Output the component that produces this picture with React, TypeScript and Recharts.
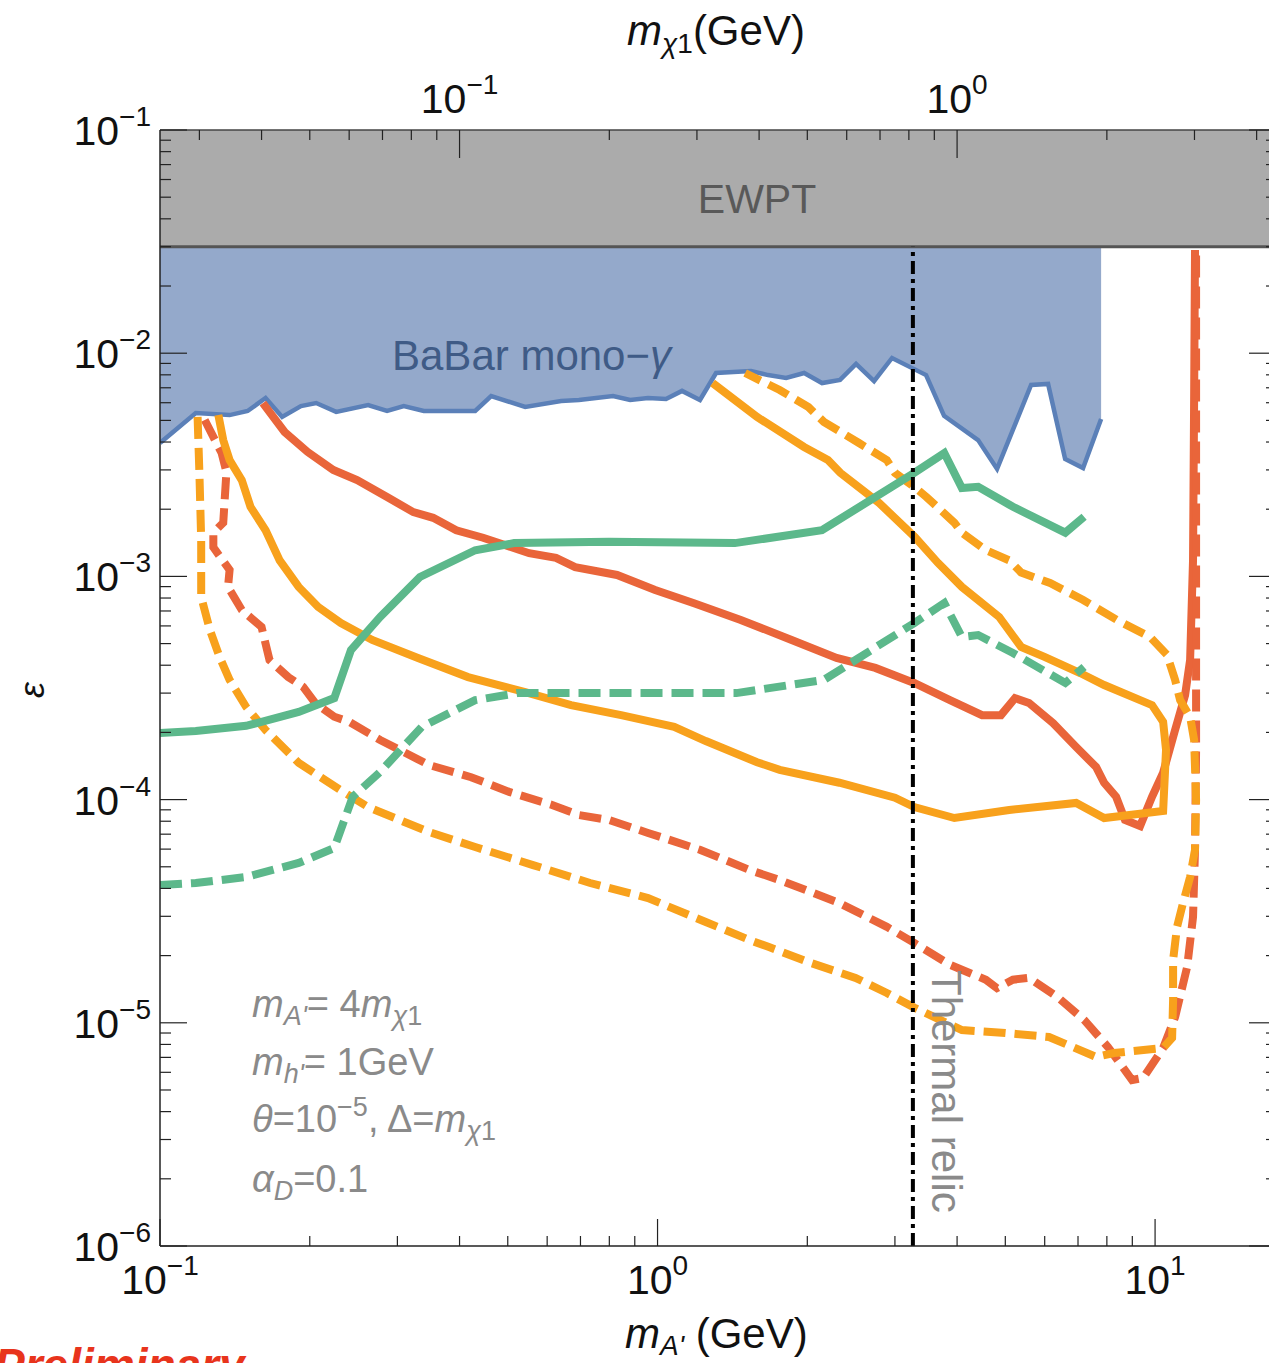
import React from "react";
import { Area, ComposedChart, Line, ReferenceArea, ReferenceLine, XAxis, YAxis } from "recharts";

const FONT = '"Liberation Sans", Arial, Helvetica, sans-serif';

// axis ranges (m_A' in GeV on x, epsilon on y)
const X_MIN = 0.1;
const X_MAX = 17.5;
const Y_MIN = 1e-6;
const Y_MAX = 1e-1;
const EWPT_LOWER = 0.03;
const RELIC_MASS = 3.26;
const MA_PER_MCHI = 4; // m_A' = 4 m_chi1

// ticks
const bottomMajorTicks = [0.1, 1, 10];
const bottomMinorTicks = [0.2, 0.3, 0.4, 0.5, 0.6, 0.7, 0.8, 0.9, 2, 3, 4, 5, 6, 7, 8, 9];
const topMajorTicks = [0.1, 1]; // m_chi1
const topMinorTicks = [0.03, 0.04, 0.05, 0.06, 0.07, 0.08, 0.09, 0.2, 0.3, 0.4, 0.5, 0.6, 0.7, 0.8, 0.9, 2, 3, 4];
const yMajorTicks = [1e-6, 1e-5, 1e-4, 1e-3, 1e-2, 1e-1];
const yMinorFactors = [2, 3, 4, 5, 6, 7, 8, 9];

// BaBar mono-photon bound
const babarMass = [0.1, 0.118, 0.138, 0.15, 0.163, 0.176, 0.192, 0.206, 0.226, 0.262, 0.286, 0.309, 0.339, 0.381, 0.43, 0.463, 0.542, 0.64, 0.695, 0.814, 0.881, 0.957, 1.04, 1.12, 1.217, 1.311, 1.541, 1.668, 1.813, 1.971, 2.141, 2.327, 2.506, 2.724, 2.96, 3.465, 3.766, 4.408, 4.813, 5.634, 6.095, 6.595, 7.166, 7.79];
const babarEps = [0.00396, 0.0054, 0.00528, 0.00551, 0.0063, 0.00518, 0.00579, 0.00598, 0.00546, 0.00586, 0.00551, 0.00579, 0.00551, 0.00551, 0.00551, 0.00643, 0.00574, 0.00611, 0.00617, 0.00643, 0.00617, 0.0063, 0.00624, 0.00678, 0.00617, 0.00815, 0.00832, 0.00798, 0.00774, 0.00815, 0.00735, 0.00759, 0.00895, 0.0075, 0.00952, 0.00798, 0.00524, 0.00408, 0.00303, 0.00721, 0.00728, 0.00336, 0.00306, 0.00507];

// red solid
const redSolidMass = [0.161, 0.178, 0.198, 0.223, 0.249, 0.286, 0.323, 0.354, 0.394, 0.446, 0.552, 0.625, 0.683, 0.829, 0.989, 1.18, 1.47, 1.86, 2.29, 2.74, 3.28, 3.87, 4.49, 4.9, 5.23, 5.58, 6.24, 6.94, 7.61, 7.9, 8.35, 8.7, 9.33, 9.86, 10.38, 10.97, 11.49, 11.76, 11.92, 11.98, 12.03];
const redSolidEps = [5.98e-3, 4.44e-3, 3.61e-3, 3.0e-3, 2.7e-3, 2.27e-3, 1.94e-3, 1.83e-3, 1.61e-3, 1.49e-3, 1.27e-3, 1.21e-3, 1.1e-3, 1.015e-3, 8.69e-4, 7.6e-4, 6.38e-4, 5.19e-4, 4.31e-4, 3.89e-4, 3.33e-4, 2.79e-4, 2.39e-4, 2.39e-4, 2.85e-4, 2.71e-4, 2.2e-4, 1.72e-4, 1.4e-4, 1.19e-4, 1.03e-4, 8.1e-5, 7.61e-5, 1.03e-4, 1.32e-4, 2.05e-4, 2.94e-4, 4.22e-4, 1.18e-3, 6.17e-3, 2.9e-2];

// red dashed
const redDashedMass = [0.123, 0.133, 0.136, 0.134, 0.128, 0.128, 0.138, 0.137, 0.146, 0.16, 0.166, 0.181, 0.194, 0.205, 0.224, 0.24, 0.277, 0.347, 0.422, 0.505, 0.614, 0.695, 0.799, 0.957, 1.22, 1.53, 1.76, 2.32, 2.89, 3.28, 3.87, 4.57, 4.81, 5.18, 5.58, 6.35, 7.2, 8.04, 8.99, 9.46, 10.38, 10.97, 11.6, 11.92, 12.03, 12.09, 12.09, 12.09, 12.09];
const redDashedEps = [5.02e-3, 3.57e-3, 2.94e-3, 1.74e-3, 1.57e-3, 1.35e-3, 1.07e-3, 8.97e-4, 7.07e-4, 5.93e-4, 4.22e-4, 3.54e-4, 3.2e-4, 2.71e-4, 2.35e-4, 2.23e-4, 1.85e-4, 1.43e-4, 1.26e-4, 1.08e-4, 9.46e-5, 8.53e-5, 8.1e-5, 7.09e-5, 5.95e-5, 4.84e-5, 4.36e-5, 3.44e-5, 2.69e-5, 2.28e-5, 1.82e-5, 1.56e-5, 1.43e-5, 1.56e-5, 1.59e-5, 1.31e-5, 1.03e-5, 7.79e-6, 5.54e-6, 5.66e-6, 7.71e-6, 1.06e-5, 1.78e-5, 2.98e-5, 5.95e-5, 1.67e-4, 7.84e-4, 6.17e-3, 2.9e-2];

// orange solid
const orangeSolidMass = [0.131, 0.134, 0.138, 0.146, 0.152, 0.163, 0.174, 0.19, 0.208, 0.231, 0.267, 0.33, 0.416, 0.542, 0.67, 0.845, 1.08, 1.25, 1.585, 1.76, 2.32, 3.0, 3.28, 3.95, 5.09, 6.94, 7.9, 10.38, 10.52, 10.38, 9.86, 7.9, 7.07, 6.01, 5.38, 4.86, 4.09, 3.66, 3.29, 2.79, 2.33, 2.2, 1.97, 1.585, 1.29];
const orangeSolidEps = [5.29e-3, 4.08e-3, 3.32e-3, 2.7e-3, 2.05e-3, 1.61e-3, 1.18e-3, 8.97e-4, 7.29e-4, 6.18e-4, 5.19e-4, 4.31e-4, 3.54e-4, 3.03e-4, 2.65e-4, 2.39e-4, 2.12e-4, 1.83e-4, 1.47e-4, 1.36e-4, 1.19e-4, 1.02e-4, 9.26e-5, 8.27e-5, 8.98e-5, 9.66e-5, 8.27e-5, 8.89e-5, 1.67e-4, 2.23e-4, 2.65e-4, 3.26e-4, 3.69e-4, 4.35e-4, 4.83e-4, 6.58e-4, 8.97e-4, 1.15e-3, 1.5e-3, 2.13e-3, 2.91e-3, 3.32e-3, 3.8e-3, 5.18e-3, 7.35e-3];

// orange dashed
const orangeDashedMass = [0.119, 0.12, 0.121, 0.121, 0.126, 0.132, 0.138, 0.149, 0.163, 0.19, 0.231, 0.262, 0.347, 0.43, 0.562, 0.732, 0.957, 1.25, 1.53, 1.67, 2.01, 2.5, 2.89, 3.28, 3.6, 4.09, 5.0, 6.12, 7.61, 8.27, 10.38, 10.82, 10.87, 10.87, 11.07, 11.38, 11.76, 12.03, 12.09, 11.98, 11.76, 11.23, 10.97, 10.57, 9.77, 8.38, 7.17, 6.15, 5.38, 5.09, 4.57, 4.09, 3.95, 3.47, 3.28, 3.0, 2.89, 2.54, 2.16, 2.01, 1.76, 1.5];
const orangeDashedEps = [5.18e-3, 2.91e-3, 1.46e-3, 8.09e-4, 5.75e-4, 4.31e-4, 3.44e-4, 2.6e-4, 2.05e-4, 1.46e-4, 1.1e-4, 9.26e-5, 7.16e-5, 6.13e-5, 5.09e-5, 4.23e-5, 3.62e-5, 2.83e-5, 2.35e-5, 2.19e-5, 1.87e-5, 1.59e-5, 1.36e-5, 1.17e-5, 1.06e-5, 9.28e-6, 9.0e-6, 8.64e-6, 7.03e-6, 7.32e-6, 7.71e-6, 8.55e-6, 1.27e-5, 1.91e-5, 2.69e-5, 3.44e-5, 4.5e-5, 5.95e-5, 9.96e-5, 1.85e-4, 2.35e-4, 2.79e-4, 3.44e-4, 4.45e-4, 5.35e-4, 6.38e-4, 7.84e-4, 9.34e-4, 1.04e-3, 1.18e-3, 1.31e-3, 1.57e-3, 1.74e-3, 2.27e-3, 2.52e-3, 2.91e-3, 3.32e-3, 3.96e-3, 4.92e-3, 5.74e-3, 6.84e-3, 8.15e-3];

// green solid
const greenSolidMass = [0.1, 0.118, 0.149, 0.19, 0.224, 0.242, 0.277, 0.333, 0.43, 0.515, 0.799, 1.43, 2.14, 3.28, 3.77, 4.09, 4.41, 5.18, 6.6, 7.2];
const greenSolidEps = [1.99e-4, 2.03e-4, 2.14e-4, 2.47e-4, 2.85e-4, 4.68e-4, 6.58e-4, 9.94e-4, 1.31e-3, 1.41e-3, 1.43e-3, 1.41e-3, 1.61e-3, 2.91e-3, 3.57e-3, 2.49e-3, 2.52e-3, 2.05e-3, 1.57e-3, 1.85e-3];

// green dashed
const greenDashedMass = [0.1, 0.118, 0.149, 0.19, 0.224, 0.244, 0.277, 0.336, 0.43, 0.522, 0.799, 1.44, 2.16, 3.28, 3.77, 4.09, 4.41, 5.18, 6.6, 7.2];
const greenDashedEps = [4.14e-5, 4.23e-5, 4.5e-5, 5.2e-5, 6.07e-5, 1.03e-4, 1.33e-4, 2.12e-4, 2.79e-4, 3.0e-4, 3.0e-4, 3.0e-4, 3.44e-4, 6.18e-4, 7.6e-4, 5.35e-4, 5.46e-4, 4.54e-4, 3.33e-4, 3.93e-4];

const rows = (xs: number[], ys: number[]) => xs.map((x, i) => ({ x, y: ys[i] }));

const babarRows = rows(babarMass, babarEps);

const RED = "#e9653a";
const ORANGE = "#f8a11c";
const GREEN = "#5cb88b";
const DASH = "22 9";
const CURVE_WIDTH = 8;

const curves = [
  { key: "redSolid", data: rows(redSolidMass, redSolidEps), color: RED, dash: undefined },
  { key: "redDashed", data: rows(redDashedMass, redDashedEps), color: RED, dash: DASH },
  { key: "orangeSolid", data: rows(orangeSolidMass, orangeSolidEps), color: ORANGE, dash: undefined },
  { key: "orangeDashed", data: rows(orangeDashedMass, orangeDashedEps), color: ORANGE, dash: DASH },
  { key: "greenSolid", data: rows(greenSolidMass, greenSolidEps), color: GREEN, dash: undefined },
  { key: "greenDashed", data: rows(greenDashedMass, greenDashedEps), color: GREEN, dash: DASH },
];

const yTicks = [
  ...yMajorTicks,
  ...yMajorTicks.slice(0, -1).flatMap((d) => yMinorFactors.map((f) => f * d)),
];
const bottomTicks = [...bottomMajorTicks, ...bottomMinorTicks];
const topTicks = [...topMajorTicks, ...topMinorTicks].map((m) => m * MA_PER_MCHI);

const isDecade = (v: number) => Math.abs(Math.log10(v) - Math.round(Math.log10(v))) < 1e-6;
const expText = (v: number) => {
  const e = Math.round(Math.log10(v));
  return e < 0 ? `\u2212${-e}` : `${e}`;
};

const PowerLabel = ({ x, y, value, anchor }: { x: number; y: number; value: number; anchor: "start" | "middle" | "end" }) => (
  <text x={x} y={y} textAnchor={anchor} fontFamily={FONT} fontSize={41} fill="#111">
    10<tspan dy={-19} fontSize={28}>{expText(value)}</tspan>
  </text>
);

type TickProps = { x?: number; y?: number; payload?: { value: number } };
const TICK = "#222";

const BottomTick = ({ x = 0, y = 0, payload }: TickProps) => {
  const v = payload?.value ?? 1;
  const major = isDecade(v);
  return (
    <g>
      <line x1={x} x2={x} y1={y} y2={y - (major ? 27 : 10)} stroke={TICK} strokeWidth={1.2} />
      {major && <PowerLabel x={x} y={y + 48} value={v} anchor="middle" />}
    </g>
  );
};

const TopTick = ({ x = 0, y = 0, payload }: TickProps) => {
  const mchi = (payload?.value ?? 1) / MA_PER_MCHI;
  const major = isDecade(mchi);
  return (
    <g>
      <line x1={x} x2={x} y1={y} y2={y + (major ? 28 : 10)} stroke={TICK} strokeWidth={1.2} />
      {major && <PowerLabel x={x} y={y - 17} value={mchi} anchor="middle" />}
    </g>
  );
};

const LeftTick = ({ x = 0, y = 0, payload }: TickProps) => {
  const v = payload?.value ?? 1;
  const major = isDecade(v);
  return (
    <g>
      <line x1={x} x2={x + (major ? 27 : 11)} y1={y} y2={y} stroke={TICK} strokeWidth={1.2} />
      {major && <PowerLabel x={x - 9} y={y + 15} value={v} anchor="end" />}
    </g>
  );
};

const RightTick = ({ x = 0, y = 0, payload }: TickProps) => {
  const v = payload?.value ?? 1;
  const major = isDecade(v);
  return <line x1={x} x2={x - (major ? 27 : 10)} y1={y} y2={y} stroke={TICK} strokeWidth={1.2} />;
};

const GRAY_TEXT = "#8a8a8a";

export default function App() {
  return (
    <div style={{ position: "absolute", left: 0, top: 0, width: 1269, height: 1363, overflow: "hidden", background: "#fff" }}>
      <ComposedChart width={1277} height={1363} margin={{ top: 129, right: 0, bottom: 116, left: 159 }} data={babarRows}>
        <Area
          xAxisId="b"
          yAxisId="l"
          type="linear"
          dataKey={(d: { y: number }) => [d.y, EWPT_LOWER]}
          stroke="none"
          fill="#94a9cb"
          fillOpacity={1}
          isAnimationActive={false}
        />
        <Line xAxisId="b" yAxisId="l" type="linear" dataKey="y" stroke="#5b80b8" strokeWidth={4.5} dot={false} isAnimationActive={false} />
        <ReferenceArea xAxisId="b" yAxisId="l" y1={EWPT_LOWER} y2={Y_MAX} fill="#ababab" fillOpacity={1} stroke="none" />
        <ReferenceLine xAxisId="b" yAxisId="l" y={EWPT_LOWER} stroke="#555" strokeWidth={3} />
        {curves.map((c) => (
          <Line
            key={c.key}
            data={c.data}
            xAxisId="b"
            yAxisId="l"
            type="linear"
            dataKey="y"
            stroke={c.color}
            strokeWidth={CURVE_WIDTH}
            strokeDasharray={c.dash}
            dot={false}
            isAnimationActive={false}
          />
        ))}
        <ReferenceLine
          xAxisId="b"
          yAxisId="l"
          segment={[{ x: RELIC_MASS, y: Y_MIN }, { x: RELIC_MASS, y: EWPT_LOWER }]}
          stroke="#000"
          strokeWidth={4}
          strokeDasharray="13 5 4 5"
        />
        <XAxis
          xAxisId="b"
          type="number"
          dataKey="x"
          scale="log"
          domain={[X_MIN, X_MAX]}
          allowDataOverflow
          ticks={bottomTicks}
          interval={0}
          tick={(p: TickProps) => <BottomTick {...p} />}
          tickLine={false}
          tickSize={0}
          tickMargin={0}
          height={1}
          axisLine={{ stroke: "#222", strokeWidth: 1.5 }}
        />
        <XAxis
          xAxisId="t"
          orientation="top"
          type="number"
          dataKey="x"
          scale="log"
          domain={[X_MIN, X_MAX]}
          allowDataOverflow
          ticks={topTicks}
          interval={0}
          tick={(p: TickProps) => <TopTick {...p} />}
          tickLine={false}
          tickSize={0}
          tickMargin={0}
          height={1}
          axisLine={{ stroke: "#444", strokeWidth: 1.5 }}
        />
        <YAxis
          yAxisId="l"
          type="number"
          scale="log"
          domain={[Y_MIN, Y_MAX]}
          allowDataOverflow
          ticks={yTicks}
          interval={0}
          tick={(p: TickProps) => <LeftTick {...p} />}
          tickLine={false}
          tickSize={0}
          tickMargin={0}
          width={1}
          axisLine={{ stroke: "#222", strokeWidth: 1.5 }}
        />
        <YAxis
          yAxisId="r"
          orientation="right"
          type="number"
          scale="log"
          domain={[Y_MIN, Y_MAX]}
          allowDataOverflow
          ticks={yTicks}
          interval={0}
          tick={(p: TickProps) => <RightTick {...p} />}
          tickLine={false}
          tickSize={0}
          tickMargin={0}
          width={1}
          axisLine={{ stroke: "#222", strokeWidth: 1.5 }}
        />
      </ComposedChart>

      <svg style={{ position: "absolute", left: 0, top: 0, pointerEvents: "none" }} width={1269} height={1363} fontFamily={FONT}>
        {/* axis titles */}
        <text x={627} y={45} fontSize={42} fill="#111">
          <tspan fontStyle="italic">m</tspan>
          <tspan fontSize={28} dy={8} fontStyle="italic">χ</tspan>
          <tspan fontSize={28}>1</tspan>
          <tspan dy={-8}>(GeV)</tspan>
        </text>
        <text x={625} y={1348} fontSize={42} fill="#111">
          <tspan fontStyle="italic">m</tspan>
          <tspan fontSize={28} dy={7} fontStyle="italic">A'</tspan>
          <tspan dy={-7}> (GeV)</tspan>
        </text>
        <text x={44} y={690} fontSize={36} fontStyle="italic" fill="#111" textAnchor="middle" transform="rotate(-90 44 690)">
          ε
        </text>

        {/* region labels */}
        <text x={757} y={213} fontSize={41} fill="#595959" textAnchor="middle">EWPT</text>
        <text x={392} y={370} fontSize={42} fill="#3f5b86">
          BaBar mono−<tspan fontStyle="italic">γ</tspan>
        </text>
        <text x={932} y={970} fontSize={42} fill={GRAY_TEXT} transform="rotate(90 932 970)">Thermal relic</text>

        {/* parameters */}
        <g fontSize={38} fill={GRAY_TEXT}>
          <text x={252} y={1017}>
            <tspan fontStyle="italic">m</tspan>
            <tspan fontSize={27} dy={8} fontStyle="italic">A'</tspan>
            <tspan dy={-8}>= 4</tspan>
            <tspan fontStyle="italic">m</tspan>
            <tspan fontSize={27} dy={8} fontStyle="italic">χ</tspan>
            <tspan fontSize={27}>1</tspan>
          </text>
          <text x={252} y={1075}>
            <tspan fontStyle="italic">m</tspan>
            <tspan fontSize={27} dy={8} fontStyle="italic">h'</tspan>
            <tspan dy={-8}>= 1GeV</tspan>
          </text>
          <text x={252} y={1132}>
            <tspan fontStyle="italic">θ</tspan>
            <tspan>=10</tspan>
            <tspan fontSize={27} dy={-16}>−5</tspan>
            <tspan dy={16}>, Δ=</tspan>
            <tspan fontStyle="italic">m</tspan>
            <tspan fontSize={27} dy={8} fontStyle="italic">χ</tspan>
            <tspan fontSize={27}>1</tspan>
          </text>
          <text x={252} y={1192}>
            <tspan fontStyle="italic">α</tspan>
            <tspan fontSize={27} dy={8} fontStyle="italic">D</tspan>
            <tspan dy={-8}>=0.1</tspan>
          </text>
        </g>

        <text x={-6} y={1381} fontSize={46} fontWeight="bold" fontStyle="italic" fill="#e8341c">Preliminary</text>
      </svg>
    </div>
  );
}
